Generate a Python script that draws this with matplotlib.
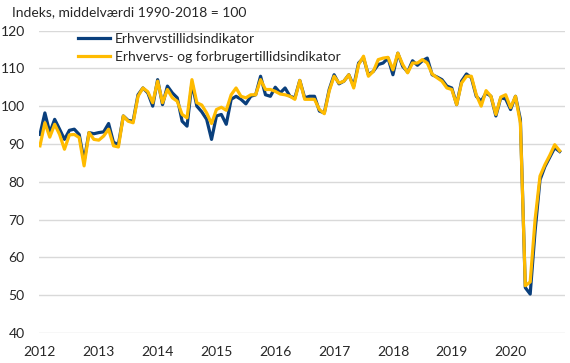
import matplotlib
matplotlib.use("Agg")
import matplotlib.pyplot as plt
import numpy as np

# Monthly data, January 2012 - November 2020
start_year = 2012
year_labels = ["2012", "2013", "2014", "2015", "2016", "2017", "2018", "2019", "2020"]

erhverv = [
    92.5, 98.2, 93.0, 96.5, 93.9, 91.2, 93.6, 93.9, 92.5, 85.5, 93.0, 92.7,
    93.0, 93.2, 95.4, 90.4, 89.9, 97.4, 96.2, 96.0, 103.0, 104.8, 103.5, 100.0,
    107.0, 100.4, 105.3, 103.5, 102.2, 96.0, 94.7, 106.1, 100.0, 98.5, 96.5, 91.2,
    97.4, 97.8, 95.2, 101.8, 102.6, 101.8, 100.6, 102.6, 103.0, 107.9, 103.0, 102.6,
    105.0, 103.5, 104.8, 102.6, 102.2, 106.8, 102.2, 102.6, 102.6, 98.7, 98.2, 104.4,
    108.3, 105.9, 106.6, 108.3, 105.3, 111.4, 112.7, 108.3, 109.2, 111.0, 111.4, 112.7,
    108.3, 114.0, 110.5, 109.0, 112.0, 110.8, 112.0, 112.7, 108.3, 107.7, 107.0, 105.3,
    104.8, 100.4, 106.6, 108.5, 107.5, 102.6, 101.3, 103.5, 102.6, 97.4, 102.2, 101.9,
    99.1, 102.6, 96.5, 52.0, 50.3, 67.0, 80.5, 84.0, 86.5, 89.0, 88.0,
]

erhverv_forbruger = [
    89.5, 95.6, 91.8, 95.2, 92.5, 88.6, 92.4, 92.5, 91.7, 84.2, 93.0, 91.2,
    91.0, 92.1, 93.9, 89.5, 89.2, 97.4, 96.0, 95.6, 102.6, 104.8, 103.8, 100.9,
    106.6, 100.9, 104.4, 102.2, 101.3, 97.8, 96.9, 107.0, 100.9, 100.3, 98.2, 95.4,
    99.1, 99.7, 98.9, 103.0, 104.8, 102.6, 102.2, 103.0, 103.0, 107.0, 104.4, 104.4,
    103.9, 103.2, 103.0, 102.6, 101.8, 106.8, 101.8, 101.8, 101.8, 99.1, 98.0, 104.0,
    107.9, 106.1, 106.6, 108.3, 104.8, 111.0, 113.2, 107.9, 109.2, 112.3, 112.7, 112.9,
    109.6, 114.0, 111.0, 108.8, 111.4, 111.4, 112.3, 111.4, 108.5, 107.5, 106.6, 104.8,
    104.4, 100.4, 106.1, 107.9, 107.9, 103.0, 100.0, 104.1, 102.6, 97.8, 102.4, 103.0,
    99.6, 102.6, 95.5, 52.5, 53.5, 70.0, 81.5, 84.5, 87.0, 89.8, 88.2,
]

series_names = ["Erhvervstillidsindikator", "Erhvervs- og forbrugertillidsindikator"]
y_title = "Indeks, middelværdi 1990-2018 = 100"
y_ticks = [40, 50, 60, 70, 80, 90, 100, 110, 120]

plt.rcParams["font.family"] = ["Lato", "DejaVu Sans"]
txt_color = "#262626"

W, H = 570, 363
fig = plt.figure(figsize=(W / 100, H / 100), dpi=100)
ax = fig.add_axes([38.5 / W, 1 - 333 / H, (565 - 38.5) / W, (333 - 30.5) / H])

x = np.arange(len(erhverv))
ax.plot(x, erhverv, color="#0a3f7c", lw=2.3, label=series_names[0], solid_joinstyle="round")
ax.plot(x, erhverv_forbruger, color="#ffbb00", lw=2.3, label=series_names[1], solid_joinstyle="round")

ax.set_xlim(-0.3, 107.1)
ax.set_ylim(40, 120)
ax.set_yticks(y_ticks)
ax.set_xticks([12 * i for i in range(len(year_labels))])
ax.set_xticklabels(year_labels)
ax.grid(axis="y", color="#d9d9d9", lw=1)
ax.set_axisbelow(True)
for s in ax.spines.values():
    s.set_visible(False)
ax.tick_params(axis="both", length=0, labelsize=10, colors=txt_color)
ax.tick_params(axis="x", pad=9)
ax.tick_params(axis="y", pad=10)

fig.text(12 / W, 1 - 12 / H, y_title, fontsize=10, color=txt_color, va="center", ha="left")

leg = fig.legend(loc="upper left", bbox_to_anchor=(78 / W, 1 - 33 / H), frameon=False,
                 fontsize=10, handlelength=2.3, handletextpad=0.35, labelspacing=0.45,
                 borderpad=0, borderaxespad=0)
for t in leg.get_texts():
    t.set_color(txt_color)

fig.savefig("out.png", dpi=100)
